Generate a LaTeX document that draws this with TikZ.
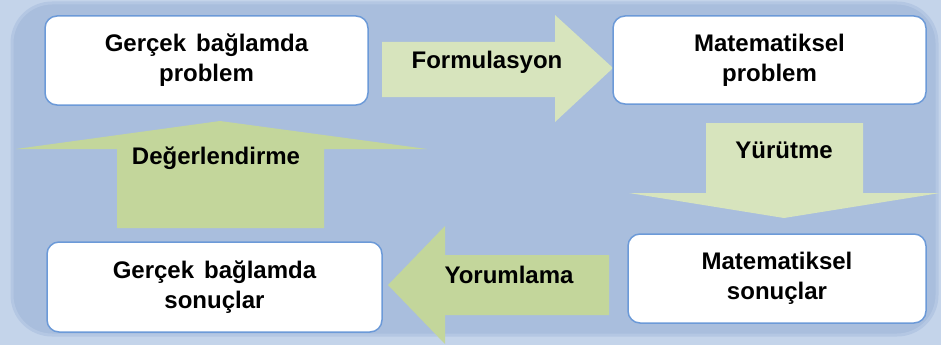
\documentclass[tikz,border=0pt]{standalone}
\usepackage{fontspec}
\setmainfont{Liberation Sans}
\definecolor{bgouter}{HTML}{C4D4EA}
\definecolor{bginner}{HTML}{A9BEDD}
\definecolor{bgrim}{HTML}{B4C7E3}
\definecolor{lightgreen}{HTML}{D7E4BD}
\definecolor{darkgreen}{HTML}{C3D69B}
\definecolor{boxblue}{HTML}{6C9AD8}
\tikzstyle{stage}=[rounded corners=12pt, draw=boxblue, line width=1.5pt, fill=white, align=center, inner sep=0pt, font=\bfseries\fontsize{24}{30}\selectfont]
\tikzstyle{steplabel}=[inner sep=0pt, font=\bfseries\fontsize{24}{30}\selectfont]

\begin{document}
\begin{tikzpicture}[x=1pt, y=-1pt]

\useasboundingbox (0,0) rectangle (941,345);
\fill[bgouter] (0,0) rectangle (941,345);
\draw[bgrim, line width=3pt, fill=bginner, rounded corners=40pt] (12,3) rectangle (937,335);

% block arrows
\fill[lightgreen] (382,42) -- (555,42) -- (555,15) -- (613,68) -- (555,122) -- (555,97) -- (382,97) -- cycle;
\fill[lightgreen] (706,123) -- (863,123) -- (863,193) -- (940,193) -- (784,218) -- (629,193) -- (706,193) -- cycle;
\fill[darkgreen] (609,255) -- (445,255) -- (445,226) -- (388,285) -- (445,344) -- (445,315) -- (609,315) -- cycle;
\fill[darkgreen] (117,228) -- (117,149) -- (16,149) -- (220,121) -- (427,149) -- (324,149) -- (324,228) -- cycle;

\node[steplabel] (formulasyon) at (487,62) {Formulasyon};
\node[steplabel] (yurutme) at (784,150) {Yürütme};
\node[steplabel] (yorumlama) at (509,275) {Yorumlama};
\node[steplabel] (degerlendirme) at (216,158) {Değerlendirme};

% stages
\node[stage, minimum width=323pt, minimum height=89pt] (realprob) at (206.5,60.5) {Gerçek\hspace{10pt}bağlamda\\problem};
\node[stage, minimum width=313pt, minimum height=88pt] (mathprob) at (769.5,60) {Matematiksel\\problem};
\node[stage, minimum width=298pt, minimum height=89pt] (mathres) at (777,278.5) {Matematiksel\\sonuçlar};
\node[stage, minimum width=335pt, minimum height=90pt] (realres) at (214.5,287) {Gerçek\hspace{10pt}bağlamda\\sonuçlar};

\end{tikzpicture}
\end{document}
